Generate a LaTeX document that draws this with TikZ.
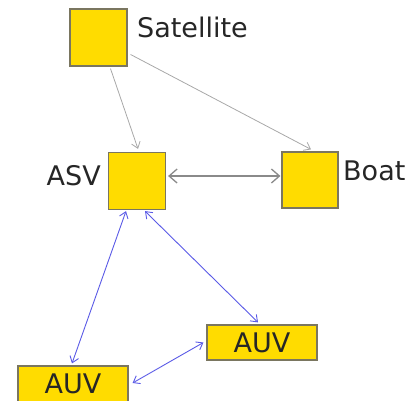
\documentclass[tikz,border=0pt]{standalone}
\usepackage{fontspec}
\setmainfont{DejaVu Sans}
\usetikzlibrary{arrows.meta}
\definecolor{boxfill}{HTML}{FFDC00}
\definecolor{boxline}{HTML}{7A7660}
\definecolor{lgray}{HTML}{A8A8A8}
\definecolor{mgray}{HTML}{8A8A8A}
\definecolor{lblue}{HTML}{5A5AE6}
\tikzset{
  unitbox/.style={draw=boxline, fill=boxfill, line width=1.2pt, inner sep=0pt, text=black!85},
  sq/.style={unitbox, minimum width=57pt, minimum height=57pt},
  rectbox/.style={unitbox, minimum width=110pt, minimum height=35pt, font=\fontsize{27}{32}\selectfont},
  lbl/.style={inner sep=0pt, text=black!85, font=\fontsize{27}{32}\selectfont},
  thinarrow/.style={lgray, line width=0.8pt, -{Straight Barb[length=6pt,width=9pt]}},
  midarrow/.style={mgray, line width=1.3pt, {Straight Barb[length=8pt,width=14pt]}-{Straight Barb[length=8pt,width=14pt]}},
  bluearrow/.style={lblue, line width=0.9pt, {Straight Barb[length=6pt,width=9pt]}-{Straight Barb[length=6pt,width=9pt]}}
}
\begin{document}
\begin{tikzpicture}[x=1pt,y=-1pt]
\useasboundingbox (0,0) rectangle (419,400);
\node[sq] (sat) at (98.5,37.5) {};
\node[sq] (asv) at (137,181) {};
\node[sq, minimum width=56pt, minimum height=56pt] (boat) at (310,180) {};
\node[rectbox] (auvr) at (262,342.5) {AUV};
\node[rectbox, minimum height=36pt] (auvl) at (73,384) {AUV};
\node[lbl, anchor=base west] (satl) at (137,37) {Satellite};
\node[lbl, anchor=base east] (asvl) at (101,185) {ASV};
\node[lbl, anchor=base west] (boatl) at (343,180) {Boat};
\draw[thinarrow] ([xshift=12pt,yshift=-2pt]sat.south) -- ([xshift=1pt,yshift=3pt]asv.north);
\draw[thinarrow] ([xshift=3pt,yshift=-17pt]sat.east) -- ([xshift=1pt,yshift=2pt]boat.north);
\draw[midarrow] ([xshift=2pt,yshift=5pt]asv.east) -- ([xshift=-1pt,yshift=4pt]boat.west);
\draw[bluearrow] ([xshift=-11pt,yshift=-1pt]asv.south) -- ([xshift=-1pt,yshift=2pt]auvl.north);
\draw[bluearrow] ([xshift=8pt,yshift=-1pt]asv.south) -- ([xshift=-4pt,yshift=2pt]auvr.north);
\draw[bluearrow] ([xshift=4pt,yshift=1pt]auvl.east) -- ([xshift=-3pt]auvr.west);
\end{tikzpicture}
\end{document}
